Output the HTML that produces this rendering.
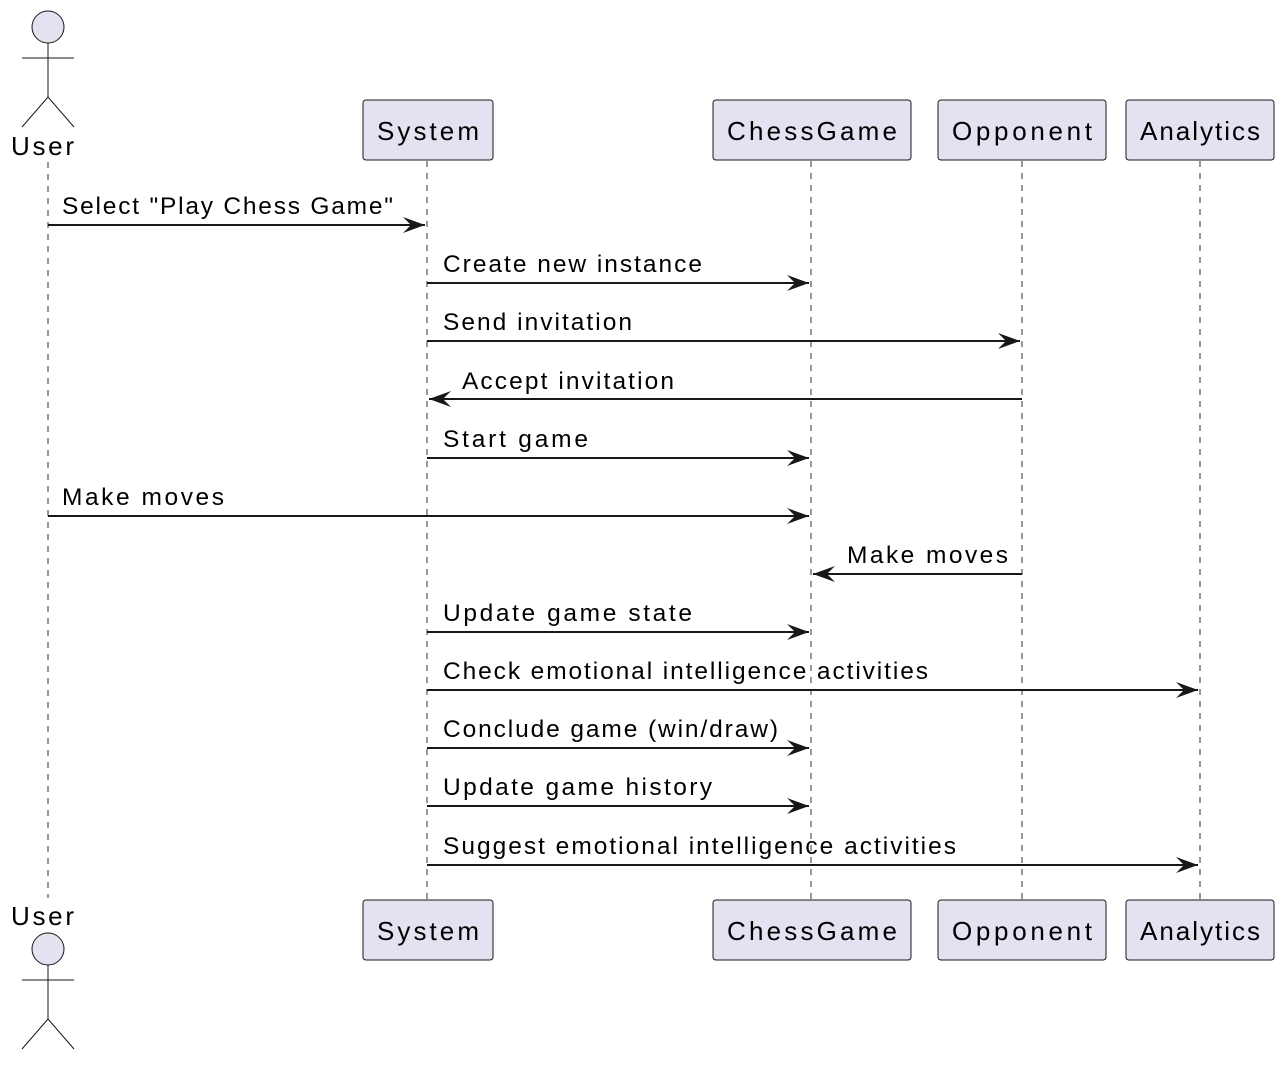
<!DOCTYPE html>
<html><head><style>body{margin:0;background:#fff}</style></head><body>
<svg width="1286" height="1062" xmlns="http://www.w3.org/2000/svg" font-family="Liberation Sans, sans-serif">
<defs><marker id="a" markerWidth="24" markerHeight="18" refX="22" refY="9" orient="auto" markerUnits="userSpaceOnUse"><polygon points="22,9 0,1 8,9 0,17" fill="#181818"/></marker></defs>
<g stroke="#555" stroke-width="1.2" stroke-dasharray="6,6">
<line x1="48" y1="162" x2="48" y2="898"/><line x1="427" y1="161" x2="427" y2="900"/><line x1="811" y1="161" x2="811" y2="900"/><line x1="1022" y1="161" x2="1022" y2="900"/><line x1="1200" y1="161" x2="1200" y2="900"/>
</g>
<g fill="#E2E2F0" stroke="#181818" stroke-width="1">
<rect x="363" y="100" width="130" height="60" rx="3"/><rect x="713" y="100" width="198" height="60" rx="3"/><rect x="938" y="100" width="168" height="60" rx="3"/><rect x="1126" y="100" width="148" height="60" rx="3"/>
<rect x="363" y="900" width="130" height="60" rx="3"/><rect x="713" y="900" width="198" height="60" rx="3"/><rect x="938" y="900" width="168" height="60" rx="3"/><rect x="1126" y="900" width="148" height="60" rx="3"/>
<circle cx="48" cy="27" r="16"/><circle cx="48" cy="949" r="16"/>
</g>
<g stroke="#181818" stroke-width="1" fill="none">
<path d="M48 43V97M22 58H74M22 127L48 97L74 127"/>
<path d="M48 965V1019M22 980H74M22 1049L48 1019L74 1049"/>
</g>
<g font-size="26" fill="#000" lengthAdjust="spacingAndGlyphs">
<text x="11" y="155" textLength="63">User</text><text x="11" y="925" textLength="63">User</text>
<text x="377" y="140" textLength="102">System</text><text x="727" y="140" textLength="170">ChessGame</text><text x="952" y="140" textLength="140">Opponent</text><text x="1140" y="140" textLength="120">Analytics</text>
<text x="377" y="940" textLength="102">System</text><text x="727" y="940" textLength="170">ChessGame</text><text x="952" y="940" textLength="140">Opponent</text><text x="1140" y="940" textLength="120">Analytics</text>
</g>
<g stroke="#181818" stroke-width="2" marker-end="url(#a)">
<line x1="48" y1="225" x2="425" y2="225"/>
<line x1="427" y1="283" x2="809" y2="283"/>
<line x1="427" y1="341" x2="1020" y2="341"/>
<line x1="1022" y1="399" x2="429" y2="399"/>
<line x1="427" y1="458" x2="809" y2="458"/>
<line x1="48" y1="516" x2="809" y2="516"/>
<line x1="1022" y1="574" x2="813" y2="574"/>
<line x1="427" y1="632" x2="809" y2="632"/>
<line x1="427" y1="690" x2="1198" y2="690"/>
<line x1="427" y1="748" x2="809" y2="748"/>
<line x1="427" y1="806" x2="809" y2="806"/>
<line x1="427" y1="865" x2="1198" y2="865"/>
</g>
<g font-size="24.5" fill="#000" lengthAdjust="spacingAndGlyphs">
<text x="62" y="214" textLength="331">Select "Play Chess Game"</text>
<text x="443" y="272" textLength="259">Create new instance</text>
<text x="443" y="330" textLength="189">Send invitation</text>
<text x="462" y="389" textLength="212">Accept invitation</text>
<text x="443" y="447" textLength="145">Start game</text>
<text x="62" y="505" textLength="162">Make moves</text>
<text x="847" y="563" textLength="161">Make moves</text>
<text x="443" y="621" textLength="249">Update game state</text>
<text x="443" y="679" textLength="485">Check emotional intelligence activities</text>
<text x="443" y="737" textLength="335">Conclude game (win/draw)</text>
<text x="443" y="795" textLength="269">Update game history</text>
<text x="443" y="854" textLength="513">Suggest emotional intelligence activities</text>
</g>
</svg>
</body></html>
